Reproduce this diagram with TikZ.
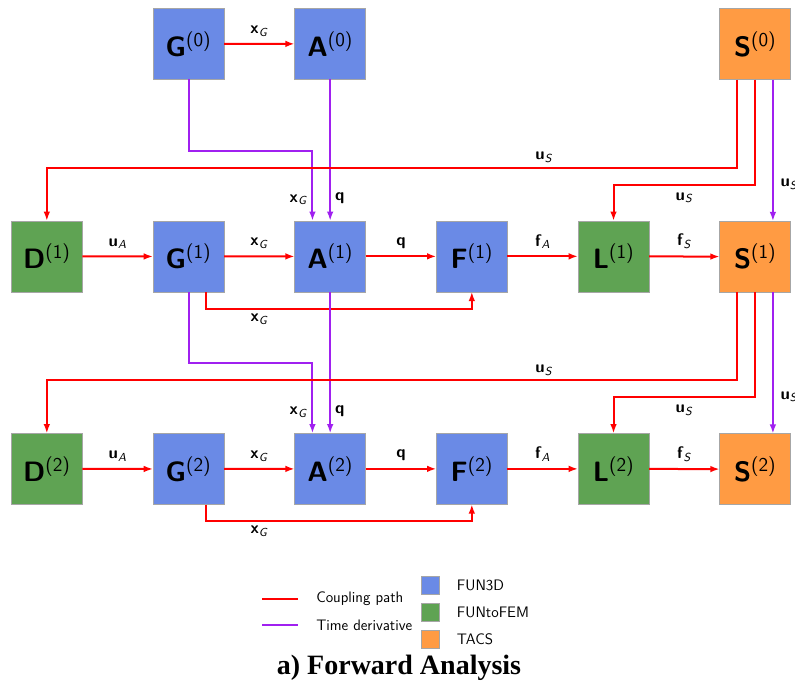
\documentclass[tikz,border=0pt]{standalone}
\usepackage{fontspec}
\usepackage{tikz}
\usetikzlibrary{matrix,positioning,arrows.meta}
\newfontfamily\titlefont{Liberation Serif}

\definecolor{fundblue}{RGB}{106,138,230}
\definecolor{ftfgreen}{RGB}{95,163,83}
\definecolor{tacsorange}{RGB}{255,155,67}
\definecolor{tdpurple}{RGB}{160,32,240}

\newcommand{\blk}[2]{\textbf{#1}\textsuperscript{(#2)}}
\newcommand{\vlbl}[2]{\textbf{#1}\textsubscript{\textit{#2}}}

\tikzset{
  blockbox/.style={draw=black!35, line width=0.5pt, minimum size=53.25pt,
                   inner sep=0pt, outer sep=0pt,
                   font=\sffamily\fontsize{21}{23}\selectfont},
  fun3d/.style={blockbox, fill=fundblue},
  ftf/.style={blockbox, fill=ftfgreen},
  tacs/.style={blockbox, fill=tacsorange},
  keybox/.style={draw=black!35, line width=0.5pt, minimum size=13.5pt, inner sep=0pt},
  coupling/.style={red, line width=1.5pt, ->},
  timederiv/.style={tdpurple, line width=1.5pt, ->},
  lbl/.style={text=black, font=\sffamily\fontsize{12.5}{14}\selectfont, inner sep=3pt},
  legtext/.style={font=\sffamily\fontsize{11.4}{13}\selectfont, inner sep=0pt}
}

\begin{document}
\begin{tikzpicture}[x=0.75pt, y=-0.75pt, >={Latex[length=7pt,width=5pt]}]
  \useasboundingbox (0,0) rectangle (795,686);

  %--- Blocks: time step 0, 1 and 2
  \matrix[matrix of nodes,
          row sep=105.4pt,
          column sep=52.5pt,
          inner sep=0pt, outer sep=0pt,
          anchor=north west
    ] (M) at (11,8) {
    & |[fun3d, alias=G0]| \blk{G}{0} & |[fun3d, alias=A0]| \blk{A}{0} & & & |[tacs, alias=S0]| \blk{S}{0} \\
    |[ftf, alias=D1]| \blk{D}{1} & |[fun3d, alias=G1]| \blk{G}{1} & |[fun3d, alias=A1]| \blk{A}{1} & |[fun3d, alias=F1]| \blk{F}{1} & |[ftf, alias=L1]| \blk{L}{1} & |[tacs, alias=S1]| \blk{S}{1} \\
    |[ftf, alias=D2]| \blk{D}{2} & |[fun3d, alias=G2]| \blk{G}{2} & |[fun3d, alias=A2]| \blk{A}{2} & |[fun3d, alias=F2]| \blk{F}{2} & |[ftf, alias=L2]| \blk{L}{2} & |[tacs, alias=S2]| \blk{S}{2} \\
  };

  %--- Step 0 into step 1
  \draw[coupling] (G0) -- node[lbl, above=2pt] {\vlbl{x}{G}} (A0);
  \draw[timederiv] (G0.south) |- ([xshift=-13.3pt, yshift=52.5pt]A1.north)
    -- node[lbl, left, pos=0.7] {\vlbl{x}{G}} ([xshift=-13.3pt]A1.north);
  \draw[timederiv] (A0) -- node[lbl, right, pos=0.84] {\textbf{q}} (A1);
  \draw[coupling] ([xshift=-13.3pt]S0.south)
    |- node[lbl, above, pos=0.64] {\vlbl{u}{S}} ([yshift=39.75pt]D1.north) -- (D1.north);
  \draw[coupling] (S0.south)
    |- node[lbl, below=2pt, pos=0.75] {\vlbl{u}{S}} ([yshift=27pt]L1.north) -- (L1.north);
  \draw[timederiv] ([xshift=13.3pt]S0.south)
    -- node[lbl, right=2pt, pos=0.74] {\vlbl{u}{S}} ([xshift=13.3pt]S1.north);

  %--- Step 1
  \draw[coupling] (D1) -- node[lbl, above=2pt] {\vlbl{u}{A}} (G1);
  \draw[coupling] (G1) -- node[lbl, above=2pt] {\vlbl{x}{G}} (A1);
  \draw[coupling] (A1) -- node[lbl, above=2pt] {\textbf{q}} (F1);
  \draw[coupling] (F1) -- node[lbl, above=2pt] {\vlbl{f}{A}} (L1);
  \draw[coupling] (L1) -- node[lbl, above=2pt] {\vlbl{f}{S}} (S1);
  \draw[coupling] ([xshift=13.3pt]G1.south)
    |- node[lbl, below, pos=0.6] {\vlbl{x}{G}} ([yshift=-12.75pt]F1.south) -- (F1.south);

  %--- Step 1 into step 2
  \draw[timederiv] (G1.south) |- ([xshift=-13.3pt, yshift=52.5pt]A2.north)
    -- node[lbl, left, pos=0.7] {\vlbl{x}{G}} ([xshift=-13.3pt]A2.north);
  \draw[timederiv] (A1) -- node[lbl, right, pos=0.84] {\textbf{q}} (A2);
  \draw[coupling] ([xshift=-13.3pt]S1.south)
    |- node[lbl, above, pos=0.64] {\vlbl{u}{S}} ([yshift=39.75pt]D2.north) -- (D2.north);
  \draw[coupling] (S1.south)
    |- node[lbl, below=2pt, pos=0.75] {\vlbl{u}{S}} ([yshift=27pt]L2.north) -- (L2.north);
  \draw[timederiv] ([xshift=13.3pt]S1.south)
    -- node[lbl, right=2pt, pos=0.74] {\vlbl{u}{S}} ([xshift=13.3pt]S2.north);

  %--- Step 2
  \draw[coupling] (D2) -- node[lbl, above=2pt] {\vlbl{u}{A}} (G2);
  \draw[coupling] (G2) -- node[lbl, above=2pt] {\vlbl{x}{G}} (A2);
  \draw[coupling] (A2) -- node[lbl, above=2pt] {\textbf{q}} (F2);
  \draw[coupling] (F2) -- node[lbl, above=2pt] {\vlbl{f}{A}} (L2);
  \draw[coupling] (L2) -- node[lbl, above=2pt] {\vlbl{f}{S}} (S2);
  \draw[coupling] ([xshift=13.3pt]G2.south)
    |- node[lbl, below, pos=0.6] {\vlbl{x}{G}} ([yshift=-12.75pt]F2.south) -- (F2.south);

  %--- Legend
  \coordinate (cpl) at (262,599);
  \coordinate (cpr) at (298,599);
  \coordinate (tdl) at (262,625);
  \coordinate (tdr) at (298,625);
  \draw[coupling, -] (cpl) -- (cpr);
  \draw[timederiv, -] (tdl) -- (tdr);
  \node[legtext, anchor=west] (cptext) at (316,599) {Coupling path};
  \node[legtext, anchor=west] (tdtext) at (316,625) {Time derivative};

  \node[keybox, fill=fundblue] (keyfun) at (430,585.5) {};
  \node[keybox, fill=ftfgreen] (keyftf) at (430,612) {};
  \node[keybox, fill=tacsorange] (keytacs) at (430,639) {};
  \node[legtext, right=13pt of keyfun] (funtext) {FUN3D};
  \node[legtext, right=13pt of keyftf] (ftftext) {FUNtoFEM};
  \node[legtext, right=13pt of keytacs] (tacstext) {TACS};

  %--- Caption
  \node[font=\titlefont\bfseries\fontsize{21}{24}\selectfont] (title) at (399,668) {a) Forward Analysis};

\end{tikzpicture}
\end{document}
